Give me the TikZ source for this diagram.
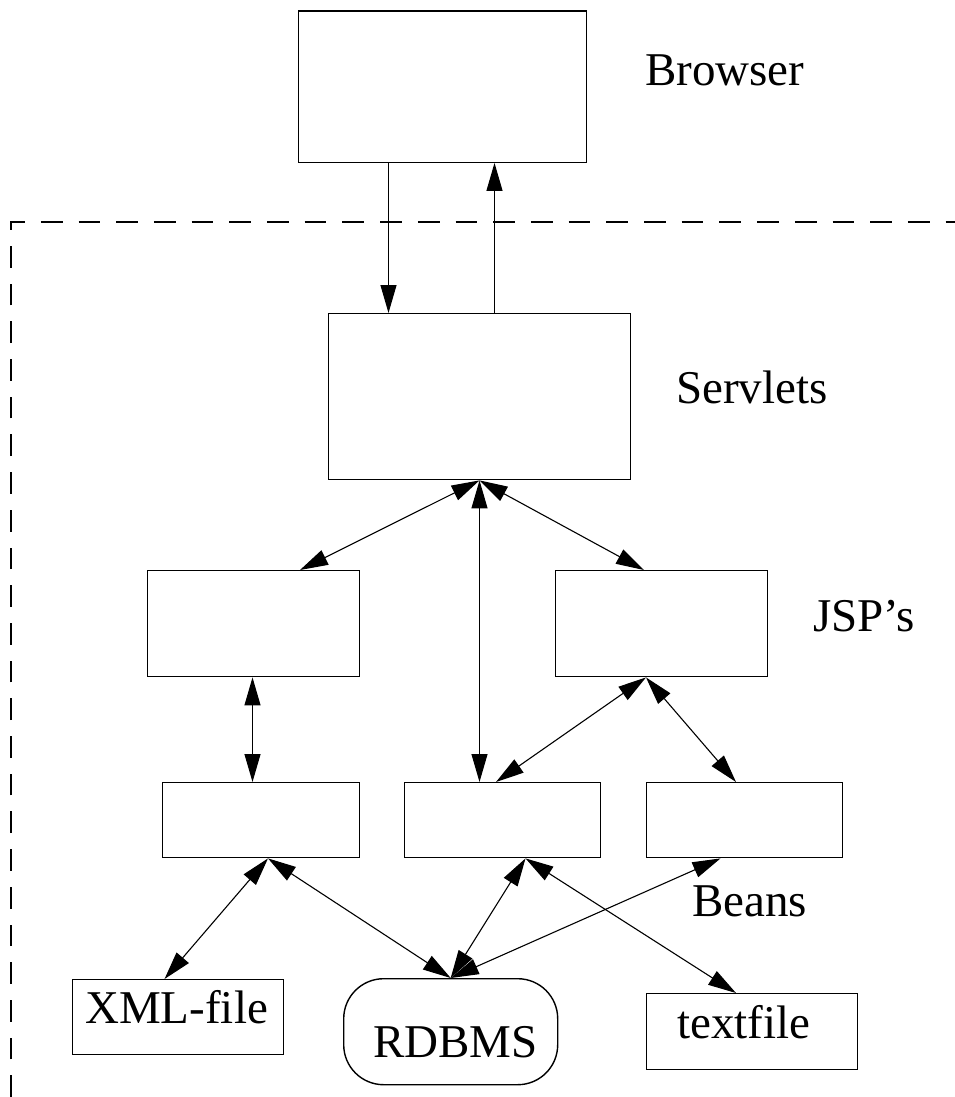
\documentclass[tikz,border=0pt]{standalone}
\usepackage{fontspec}
\setmainfont{Liberation Serif}
\usetikzlibrary{arrows.meta}
\begin{document}
\begin{tikzpicture}[x=1pt,y=-1pt,
  >={Triangle[length=28pt,width=16pt]},
  box/.style={draw, line width=1.4pt, inner sep=0pt, anchor=north west},
  dbbox/.style={box, rounded corners=40pt},
  conn/.style={line width=1.1pt},
  label/.style={anchor=base west, inner sep=0pt, font=\fontsize{47}{56}\selectfont},
  frame/.style={line width=1.2pt, dash pattern=on 21.7pt off 16pt}]
\useasboundingbox (0,0) rectangle (955,1097);

% boundary of the server side
\draw[frame] (11,1097) -- (11,222) -- (955,222);

% tiers
\node[box, minimum width=288pt, minimum height=151pt] (browser)  at (298,10.5) {};
\node[box, minimum width=302pt, minimum height=166pt] (servlets) at (328,313) {};
\node[box, minimum width=212pt, minimum height=106pt] (jspL)     at (147,570) {};
\node[box, minimum width=212pt, minimum height=106pt] (jspR)     at (555,570) {};
\node[box, minimum width=197pt, minimum height=75pt]  (beanA)    at (162,782) {};
\node[box, minimum width=196pt, minimum height=75pt]  (beanB)    at (404,782) {};
\node[box, minimum width=196pt, minimum height=75pt]  (beanC)    at (646,782) {};
\node[box, minimum width=211pt, minimum height=75pt]  (xml)      at (72,979) {};
\node[dbbox, minimum width=214pt, minimum height=106pt] (rdbms)  at (343,978) {};
\node[box, minimum width=211pt, minimum height=76pt]  (text)     at (646,993) {};

% labels
\node[label] (lbrowser)  at (645,86)   {Browser};
\node[label] (lservlets) at (676,403)  {Servlets};
\node[label] (ljsp)      at (813,631)  {JSP's};
\node[label] (lbeans)    at (692,916)  {Beans};
\node[label] (lxml)      at (85,1023)  {XML-file};
\node[label] (lrdbms)    at (373,1057) {RDBMS};
\node[label] (ltext)     at (677,1038) {textfile};

% anchor points for connectors
\coordinate (bDown) at ([xshift=90.5pt]browser.south west);
\coordinate (bUp)   at ([xshift=196.5pt]browser.south west);
\coordinate (sDown) at ([xshift=60.5pt]servlets.north west);
\coordinate (sUp)   at ([xshift=166.5pt]servlets.north west);
\coordinate (sBot)  at ([xshift=151.5pt]servlets.south west);
\coordinate (jLtop) at ([xshift=153pt]jspL.north west);
\coordinate (jLbot) at ([xshift=105.5pt]jspL.south west);
\coordinate (jRtop) at ([xshift=89pt]jspR.north west);
\coordinate (jRbot) at ([xshift=91pt]jspR.south west);
\coordinate (bAtop) at ([xshift=90.5pt]beanA.north west);
\coordinate (bAbot) at ([xshift=106pt]beanA.south west);
\coordinate (bBtop1) at ([xshift=75.5pt]beanB.north west);
\coordinate (bBtop2) at ([xshift=92pt]beanB.north west);
\coordinate (bBbot) at ([xshift=121.5pt]beanB.south west);
\coordinate (bCtop) at ([xshift=90pt]beanC.north west);
\coordinate (bCbot) at ([xshift=74.5pt]beanC.south west);
\coordinate (xTop)  at ([xshift=92.5pt]xml.north west);
\coordinate (tTop)  at ([xshift=90pt]text.north west);

% browser <-> servlets
\draw[conn,->] (bDown) -- (sDown);
\draw[conn,->] (sUp) -- (bUp);

% servlets <-> JSP's and beans
\draw[conn,<->] (sBot) -- (jLtop);
\draw[conn,<->] (sBot) -- (bBtop1);
\draw[conn,<->] (sBot) -- (jRtop);

% JSP's <-> beans
\draw[conn,<->] (jLbot) -- (bAtop);
\draw[conn,<->] (jRbot) -- (bBtop2);
\draw[conn,<->] (jRbot) -- (bCtop);

% beans <-> data sources
\draw[conn,<->] (bAbot) -- (xTop);
\draw[conn,<->] (bAbot) -- (rdbms.north);
\draw[conn,<->] (bBbot) -- (rdbms.north);
\draw[conn,<->] (bBbot) -- (tTop);
\draw[conn,<->] (bCbot) -- (rdbms.north);
\end{tikzpicture}
\end{document}
